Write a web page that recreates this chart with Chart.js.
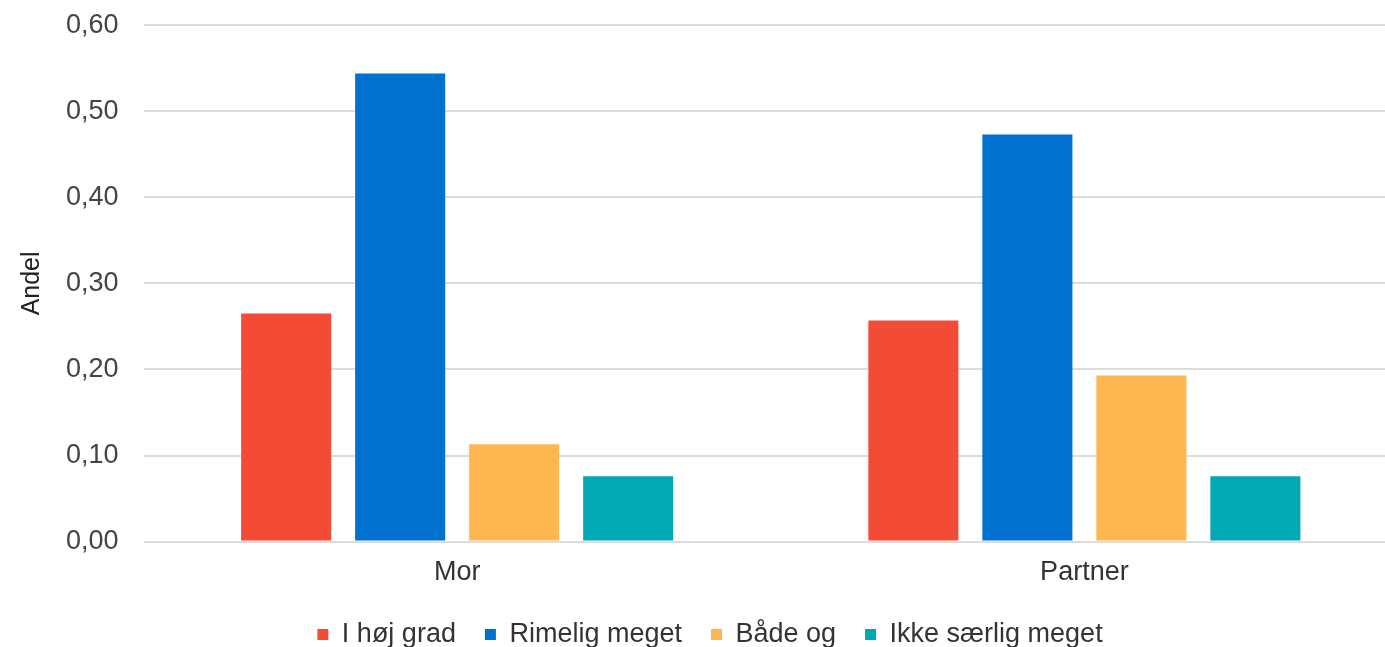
<!DOCTYPE html>
<html>
<head>
<meta charset="utf-8">
<script src="https://cdn.jsdelivr.net/npm/chart.js@4.4.1/dist/chart.umd.min.js"></script>
<style>
    html, body { margin: 0; padding: 0; background: #ffffff; overflow: hidden; }
    /* the reference is cropped at the top and right, so the canvas runs past the window */
    #wrap { position: relative; width: 1432px; height: 680px; margin-top: -16px; }
</style>
</head>
<body>
<div id="wrap"><canvas id="chart"></canvas></div>
<script>
    const categories = ['Mor', 'Partner'];
    const seriesNames = ['I høj grad', 'Rimelig meget', 'Både og', 'Ikke særlig meget'];
    const iHojGrad = [0.265, 0.257];
    const rimeligMeget = [0.544, 0.473];
    const badeOg = [0.113, 0.193];
    const ikkeSaerligMeget = [0.076, 0.076];
    const yTicks = [0, 0.1, 0.2, 0.3, 0.4, 0.5, 0.6];

    const seriesColors = ['#F34B36', '#0071CE', '#FEB650', '#00A9B4'];
    const FONT = "'Liberation Sans', Arial, sans-serif";

    const seriesValues = [iHojGrad, rimeligMeget, badeOg, ikkeSaerligMeget];

    const datasets = seriesNames.map((name, i) => ({
        label: name,
        data: seriesValues[i],
        backgroundColor: seriesColors[i],
        borderWidth: 0,
        categoryPercentage: 0.727,
        barPercentage: 0.79,
    }));

    // format a value the Norwegian way: 0,10
    const fmt = (v) => v.toFixed(2).replace('.', ',');

    const ctx = document.getElementById('chart').getContext('2d');
    new Chart(ctx, {
        type: 'bar',
        data: { labels: categories, datasets },
        options: {
            responsive: true,
            maintainAspectRatio: false,
            animation: false,
            layout: { padding: { top: 8, right: 34, bottom: 6, left: 22 } },
            plugins: {
                legend: {
                    position: 'bottom',
                    labels: {
                        color: '#333333',
                        font: { family: FONT, size: 27, lineHeight: 1 },
                        boxWidth: 11,
                        boxHeight: 11,
                        padding: 29,
                    },
                },
                tooltip: { enabled: false },
            },
            scales: {
                x: {
                    grid: { display: false, drawTicks: false },
                    border: { display: false },
                    ticks: {
                        color: '#333333',
                        font: { family: FONT, size: 27 },
                        padding: 15,
                    },
                    // tighten the gap between category labels and legend
                    afterFit: (axis) => { axis.height -= 12; },
                },
                y: {
                    min: 0,
                    max: 0.6,
                    afterBuildTicks: (axis) => {
                        axis.ticks = yTicks.map(v => ({ value: v }));
                    },
                    grid: { color: '#dcdcdc', lineWidth: 2, drawTicks: false },
                    border: { display: false },
                    ticks: {
                        color: '#444444',
                        font: { family: FONT, size: 27 },
                        padding: 25,
                        callback: (v) => fmt(v),
                    },
                    title: {
                        display: true,
                        text: 'Andel',
                        color: '#222222',
                        font: { family: FONT, size: 25 },
                        padding: { top: -5, bottom: -6 },
                    },
                },
            },
        },
    });
</script>
</body>
</html>
